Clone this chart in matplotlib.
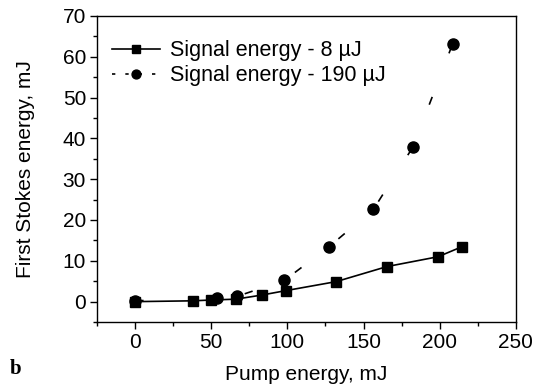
import matplotlib
matplotlib.use("Agg")
import matplotlib.pyplot as plt
from matplotlib.ticker import MultipleLocator

plt.rcParams['font.family'] = ['Liberation Sans', 'DejaVu Sans']

# Signal energy 8 uJ (squares, solid)
pump_8 = [0, 38, 50, 66, 83, 99, 132, 165.5, 199, 215]
stokes_8 = [0, 0.2, 0.4, 0.6, 1.6, 2.7, 4.9, 8.6, 11.0, 13.5]

# Signal energy 190 uJ (circles, dashed)
pump_190 = [0, 53.5, 67, 98, 127.5, 156.5, 182.5, 208.5]
stokes_190 = [0.2, 0.9, 1.3, 5.2, 13.5, 22.6, 37.9, 63.1]

fig = plt.figure(figsize=(5.4, 3.88), dpi=100)
ax = fig.add_axes([0.18, 0.17, 0.775, 0.789])

ax.plot(pump_8, stokes_8, '-', color='black', lw=1.2, marker='s', ms=7.5,
        label='Signal energy - 8 \u00b5J')
ax.plot(pump_190, stokes_190, color='black', lw=1.2, marker='o', ms=8,
        dashes=(5, 28), label='Signal energy - 190 \u00b5J')

ax.set_xlim(-25, 250)
ax.set_ylim(-5, 70)
ax.xaxis.set_major_locator(MultipleLocator(50))
ax.xaxis.set_minor_locator(MultipleLocator(25))
ax.yaxis.set_major_locator(MultipleLocator(10))
ax.yaxis.set_minor_locator(MultipleLocator(5))
ax.tick_params(which='both', direction='out', labelsize=15, width=1)
ax.tick_params(which='major', length=5, pad=3)
ax.tick_params(which='minor', length=3)
for s in ax.spines.values():
    s.set_linewidth(1)

ax.set_xlabel('Pump energy, mJ', fontsize=15, labelpad=9)
ax.set_ylabel('First Stokes energy, mJ', fontsize=15, labelpad=20)

leg = ax.legend(loc='upper left', frameon=False, fontsize=15.5,
                handlelength=2.2, handletextpad=0.5, labelspacing=0.2,
                borderaxespad=0.3, bbox_to_anchor=(0.0, 0.97),
                markerscale=0.8)
leg_lines = leg.get_lines()
leg_lines[1].set_dashes((2, 6))

fig.text(0.018, 0.035, 'b', fontsize=15, fontweight='bold',
         family='Liberation Serif')

fig.savefig('out.png', dpi=100)
